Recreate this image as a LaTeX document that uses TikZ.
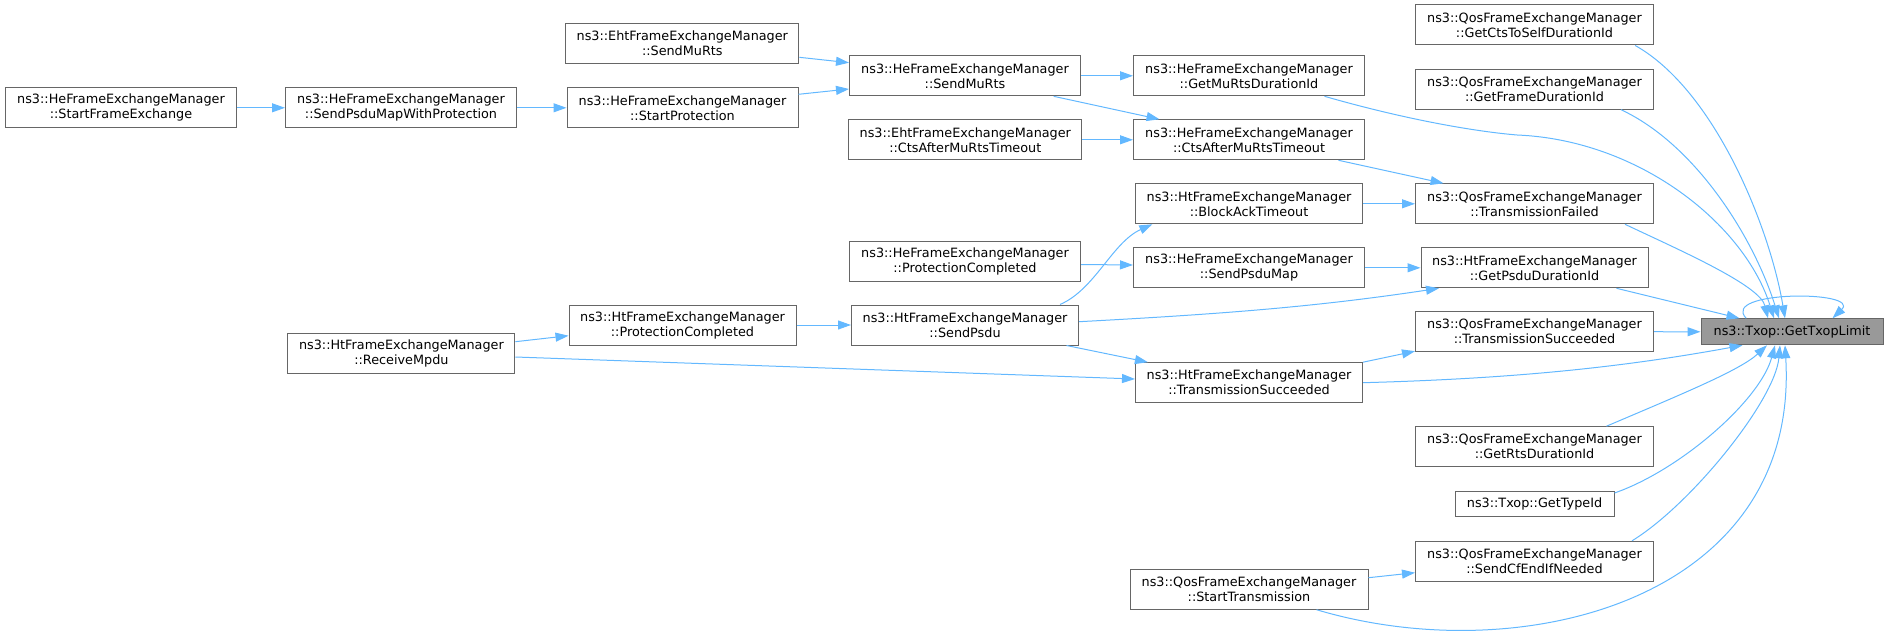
\documentclass[tikz,border=0pt]{standalone}
\usepackage{fontspec}
\setmainfont{DejaVu Sans}
\usetikzlibrary{arrows.meta}

\definecolor{edgeblue}{HTML}{63B8FF}
\definecolor{boxgray}{HTML}{666666}
\definecolor{mainfill}{HTML}{999999}

\begin{document}
\begin{tikzpicture}[x=1pt,y=-1pt]
\tikzstyle{func} = [rectangle, draw=boxgray, line width=1pt, fill=white, align=center,
minimum height=40pt, inner sep=0pt, font=\fontsize{12.8}{15}\selectfont]
\tikzstyle{target} = [func, fill=mainfill, minimum height=26pt]
\tikzstyle{link} = [draw=edgeblue, line width=1pt, -{Triangle[length=13pt,width=9pt]}]
\useasboundingbox (0,0) rectangle (1888,639);
% column 1
\node [func, minimum width=231pt] (startFrameExchange) at (121,107.8) {ns3::HeFrameExchangeManager\\::StartFrameExchange};
% column 2
\node [func, minimum width=231pt] (sendPsduMapWithProtection) at (401,107.8) {ns3::HeFrameExchangeManager\\::SendPsduMapWithProtection};
\node [func, minimum width=227pt] (receiveMpdu) at (401.4,353.3) {ns3::HtFrameExchangeManager\\::ReceiveMpdu};
% column 3
\node [func, minimum width=233pt] (ehtSendMuRts) at (682.3,43.7) {ns3::EhtFrameExchangeManager\\::SendMuRts};
\node [func, minimum width=231pt] (startProtection) at (682.5,107.8) {ns3::HeFrameExchangeManager\\::StartProtection};
\node [func, minimum width=227pt] (htProtectionCompleted) at (682.5,325) {ns3::HtFrameExchangeManager\\::ProtectionCompleted};
% column 4
\node [func, minimum width=231pt] (sendMuRts) at (965,75.8) {ns3::HeFrameExchangeManager\\::SendMuRts};
\node [func, minimum width=233pt] (ehtCtsAfterMuRtsTimeout) at (965.3,139.8) {ns3::EhtFrameExchangeManager\\::CtsAfterMuRtsTimeout};
\node [func, minimum width=231pt] (heProtectionCompleted) at (965,261.2) {ns3::HeFrameExchangeManager\\::ProtectionCompleted};
\node [func, minimum width=227pt] (sendPsdu) at (965,325) {ns3::HtFrameExchangeManager\\::SendPsdu};
% column 5
\node [func, minimum width=231pt] (getMuRtsDurationId) at (1249,75.8) {ns3::HeFrameExchangeManager\\::GetMuRtsDurationId};
\node [func, minimum width=231pt] (heCtsAfterMuRtsTimeout) at (1249,139.8) {ns3::HeFrameExchangeManager\\::CtsAfterMuRtsTimeout};
\node [func, minimum width=227pt] (blockAckTimeout) at (1249,203.8) {ns3::HtFrameExchangeManager\\::BlockAckTimeout};
\node [func, minimum width=231pt] (sendPsduMap) at (1249,267.8) {ns3::HeFrameExchangeManager\\::SendPsduMap};
\node [func, minimum width=227pt] (htTransmissionSucceeded) at (1249,382.7) {ns3::HtFrameExchangeManager\\::TransmissionSucceeded};
\node [func, minimum width=238pt] (startTransmission) at (1249,589.2) {ns3::QosFrameExchangeManager\\::StartTransmission};
% column 6
\node [func, minimum width=238pt] (getCtsToSelfDurationId) at (1534.5,25) {ns3::QosFrameExchangeManager\\::GetCtsToSelfDurationId};
\node [func, minimum width=238pt] (getFrameDurationId) at (1534.5,89.2) {ns3::QosFrameExchangeManager\\::GetFrameDurationId};
\node [func, minimum width=238pt] (transmissionFailed) at (1534.5,203.8) {ns3::QosFrameExchangeManager\\::TransmissionFailed};
\node [func, minimum width=227pt] (getPsduDurationId) at (1534.5,267.8) {ns3::HtFrameExchangeManager\\::GetPsduDurationId};
\node [func, minimum width=238pt] (qosTransmissionSucceeded) at (1534.5,331.7) {ns3::QosFrameExchangeManager\\::TransmissionSucceeded};
\node [func, minimum width=238pt] (getRtsDurationId) at (1534.5,446.7) {ns3::QosFrameExchangeManager\\::GetRtsDurationId};
\node [func, minimum width=159pt, minimum height=25pt] (getTypeId) at (1534.5,504) {ns3::Txop::GetTypeId};
\node [func, minimum width=238pt] (sendCfEndIfNeeded) at (1534.5,561.3) {ns3::QosFrameExchangeManager\\::SendCfEndIfNeeded};
% column 7
\node [target, minimum width=182pt] (getTxopLimit) at (1792,331.8) {ns3::Txop::GetTxopLimit};

\draw[link] (startFrameExchange) -- (sendPsduMapWithProtection);
\draw[link] (sendPsduMapWithProtection) -- (startProtection);
\draw[link] ([yshift=-13.6pt]ehtSendMuRts.east) -- ([yshift=13.1pt]sendMuRts.west);
\draw[link] ([yshift=13.5pt]startProtection.east) -- ([yshift=-13.2pt]sendMuRts.west);
\draw[link] (sendMuRts) -- (getMuRtsDurationId);
\draw[link] ([xshift=-27.4pt]sendMuRts.south east) -- ([xshift=26.5pt]heCtsAfterMuRtsTimeout.north west);
\draw[link] (ehtCtsAfterMuRtsTimeout) -- (heCtsAfterMuRtsTimeout);
\draw[link] ([xshift=-26.5pt]heCtsAfterMuRtsTimeout.south east) -- ([xshift=28.5pt]transmissionFailed.north west);
\draw[link] (blockAckTimeout) -- (transmissionFailed);
\draw[link] ([yshift=-3.3pt]heProtectionCompleted.east) -- ([yshift=2.8pt]sendPsduMap.west);
\draw[link] ([xshift=-19pt]sendPsdu.north east) .. controls +(35,-15) and +(-40,18) .. ([xshift=17.3pt]blockAckTimeout.south west);
\draw[link] (sendPsduMap) -- (getPsduDurationId);
\draw[link] ([yshift=3.3pt]sendPsdu.east) .. controls +(150,-8) and +(-120,18) .. ([xshift=18.5pt]getPsduDurationId.south west);
\draw[link] (htProtectionCompleted) -- (sendPsdu);
\draw[link] ([yshift=11.6pt]receiveMpdu.east) -- ([yshift=-10.7pt]htProtectionCompleted.west);
\draw[link] ([yshift=-3.7pt]receiveMpdu.east) -- ([yshift=3.7pt]htTransmissionSucceeded.west);
\draw[link] ([xshift=-12.5pt]sendPsdu.south east) -- ([xshift=12.9pt]htTransmissionSucceeded.north west);
\draw[link] (htTransmissionSucceeded.north east) -- ([yshift=1pt]qosTransmissionSucceeded.south west);
\draw[link] (htTransmissionSucceeded.east) .. controls +(150,-4) and +(-120,22) .. ([xshift=42pt]getTxopLimit.south west);
\draw[link] (qosTransmissionSucceeded) -- (getTxopLimit);
%\draw[link] (getTxopLimit) loop
\draw[link] ([xshift=45.7pt]getTxopLimit.north west) .. controls +(-27,-28) and +(29,-28) .. ([xshift=132pt]getTxopLimit.north west);
\draw[link] ([xshift=-18.8pt]getCtsToSelfDurationId.south east) .. controls +(80,45) and +(-15,-90) .. ([xshift=-7pt]getTxopLimit.north);
\draw[link] ([xshift=-33pt]getFrameDurationId.south east) .. controls +(75,35) and +(-25,-80) .. ([xshift=-13pt]getTxopLimit.north);
\draw[link] ([xshift=-40.5pt]getMuRtsDurationId.south east) .. controls (1400,118) and (1470,131) .. (1517,135) .. controls (1640,140) and (1745,225) .. ([xshift=-18pt]getTxopLimit.north);
\draw[link] ([xshift=-29pt]transmissionFailed.south east) .. controls +(55,26) and +(-8,-33) .. ([xshift=-24pt]getTxopLimit.north);
\draw[link] ([xshift=-32pt]getPsduDurationId.south east) -- ([xshift=39pt]getTxopLimit.north west);
\draw[link] ([xshift=-47.5pt]getRtsDurationId.north east) .. controls +(75,-32) and +(-27,25) .. ([xshift=-25pt]getTxopLimit.south);
\draw[link] ([yshift=-2pt]getTypeId.north east) .. controls +(66,-23) and +(-15,55) .. ([xshift=-17pt]getTxopLimit.south);
\draw[link] ([xshift=-22pt]sendCfEndIfNeeded.north east) .. controls +(59,-36) and +(-5,55) .. ([xshift=-12pt]getTxopLimit.south);
\draw[link] ([xshift=-52pt]startTransmission.south east) .. controls +(204,61) and +(15,255) .. ([xshift=-7pt]getTxopLimit.south);
\draw[link] ([yshift=11.5pt]startTransmission.east) -- ([yshift=-11.4pt]sendCfEndIfNeeded.west);
\end{tikzpicture}
\end{document}
